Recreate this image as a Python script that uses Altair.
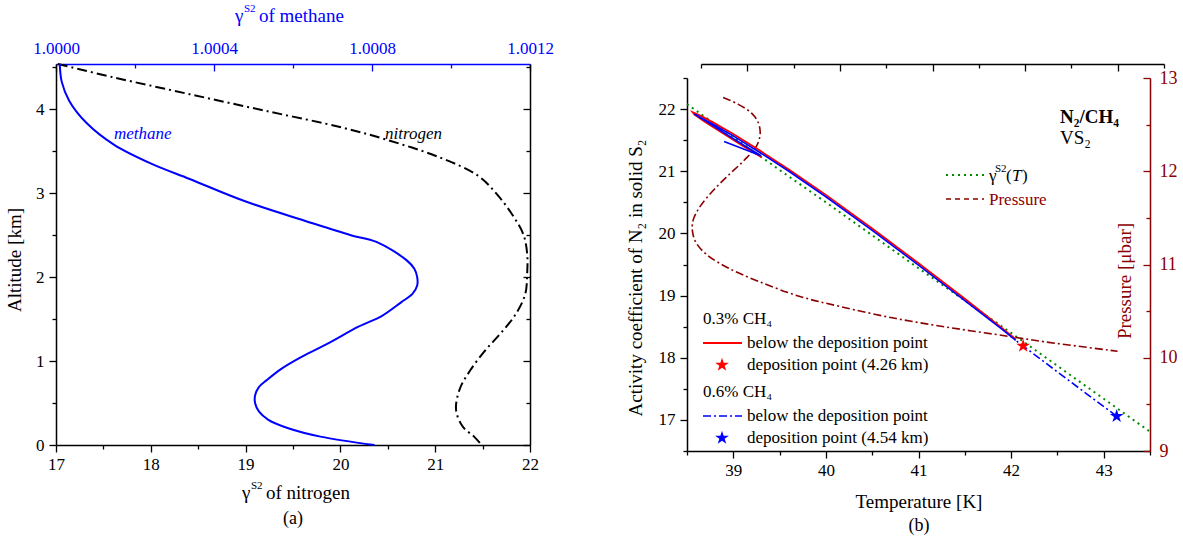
import altair as alt
import pandas as pd

FONT = "Liberation Serif"
BLUE = "#0000ff"
RED = "#ff0000"
GREEN = "#008a00"
DARKRED = "#8b0000"
BLACK = "#000000"

# ---------------- panel (a): activity coefficients vs altitude ----------------
methane_alt = [4.54, 4.33, 4.10, 3.84, 3.58, 3.35, 3.17, 2.91, 2.67, 2.50, 2.42,
               2.20, 2.10, 2.00, 1.90, 1.80, 1.70, 1.54, 1.41, 1.21, 1.05, 0.91,
               0.77, 0.69, 0.59, 0.50, 0.40, 0.30, 0.20, 0.10, 0.00]
methane_gamma = [1.0000096, 1.0000144, 1.0000336, 1.0000768, 1.0001464, 1.0002424,
                 1.0003384, 1.0004752, 1.0006312, 1.0007464, 1.0008112, 1.0008880,
                 1.0009072, 1.0009144, 1.0009144, 1.0009024, 1.0008736, 1.0008256,
                 1.0007656, 1.0006888, 1.0006216, 1.0005712, 1.0005328, 1.0005136,
                 1.0005040, 1.0005040, 1.0005136, 1.0005376, 1.0005880, 1.0006696,
                 1.0008064]
nitrogen_alt = [4.54, 4.38, 4.18, 3.98, 3.78, 3.64, 3.43, 3.21, 2.99, 2.75, 2.51,
                2.28, 2.04, 1.80, 1.56, 1.33, 1.13, 0.89, 0.67, 0.42, 0.22, 0.10, 0.00]
nitrogen_gamma = [17.02, 17.61, 18.41, 19.22, 20.03, 20.48, 21.04, 21.45, 21.65,
                  21.81, 21.93, 21.97, 21.97, 21.95, 21.85, 21.69, 21.53, 21.37,
                  21.26, 21.22, 21.29, 21.41, 21.49]

a_x_ticks = [17, 17.5, 18, 18.5, 19, 19.5, 20, 20.5, 21, 21.5, 22]
a_top_ticks = [1.0, 1.0002, 1.0004, 1.0006, 1.0008, 1.0010, 1.0012]
a_top_labels = [1.0, 1.0004, 1.0008, 1.0012]
a_y_ticks = [0, 0.5, 1, 1.5, 2, 2.5, 3, 3.5, 4, 4.5]

# ---------------- panel (b): activity coefficient vs temperature ----------------
green_T = [38.5, 39.0, 39.5, 40.0, 40.5, 41.0, 41.5, 42.0, 42.5, 43.0, 43.5]
green_g = [22.08, 21.55, 21.02, 20.50, 19.97, 19.44, 18.92, 18.40, 17.87, 17.34, 16.81]

red_T = [42.05, 41.9, 41.5, 41.0, 40.5, 40.0, 39.6, 39.3, 39.0, 38.8, 38.65,
         38.56, 38.58, 38.7, 38.9, 39.1, 39.3]
red_g = [18.30, 18.48, 18.95, 19.52, 20.08, 20.62, 21.03, 21.32, 21.60, 21.77, 21.89,
         21.95, 21.91, 21.79, 21.60, 21.41, 21.23]

blue_T = [42.05, 41.9, 41.5, 41.0, 40.5, 40.0, 39.6, 39.3, 39.0, 38.8, 38.65,
          38.58, 38.6, 38.72, 38.9, 39.1, 39.3, 38.9]
blue_g = [18.28, 18.46, 18.92, 19.49, 20.05, 20.59, 21.00, 21.29, 21.57, 21.74, 21.86,
          21.92, 21.90, 21.79, 21.62, 21.43, 21.25, 21.48]

tail_T = [43.14, 42.6, 42.05]
tail_g = [17.06, 17.66, 18.28]

star_T = [42.13, 43.14]
star_g = [18.19, 17.06]
star_case = ["0.3%", "0.6%"]

pres_T = [38.89, 39.05, 39.20, 39.27, 39.29, 39.25, 39.12, 38.95, 38.78, 38.64, 38.565,
          38.56, 38.60, 38.72, 38.95, 39.27, 39.71, 40.15, 40.76, 41.36, 41.97, 42.37, 43.15]
pres_P = [12.79, 12.72, 12.62, 12.52, 12.40, 12.27, 12.12, 11.96, 11.79, 11.62, 11.47,
          11.35, 11.23, 11.10, 10.96, 10.82, 10.66, 10.55, 10.42, 10.32, 10.23, 10.17, 10.07]

b_x_ticks = [38.5, 39, 39.5, 40, 40.5, 41, 41.5, 42, 42.5, 43, 43.5]
b_y_ticks = [16.5, 17, 17.5, 18, 18.5, 19, 19.5, 20, 20.5, 21, 21.5, 22, 22.5]
b_p_ticks = [9, 9.5, 10, 10.5, 11, 11.5, 12, 12.5, 13]
b_p_labels = [9, 10, 11, 12, 13]

STAR = ("M0,-1L0.2245,-0.309L0.9511,-0.309L0.3633,0.118L0.5878,0.809L0,0.382"
        "L-0.5878,0.809L-0.3633,0.118L-0.9511,-0.309L-0.2245,-0.309Z")

INT_TEST = "abs(datum.value - round(datum.value)) < 1e-6"
METH_TEST = "abs(datum.value * 2500 - round(datum.value * 2500)) < 1e-3"
INT_LABEL = f"({INT_TEST}) ? format(datum.value, 'd') : ''"

TICK_FS = 17
LEG_FS = 17
TITLE_FS = 19


def tick_len(test, sign=1):
    return {"expr": f"({test}) ? {7 * sign} : {4 * sign}"}


def axis(**kw):
    base = dict(title=None, grid=False, offset=0, labelFont=FONT, labelFontSize=TICK_FS,
                labelColor=BLACK, labelFlush=False, labelOverlap=False,
                domainColor=BLACK, domainWidth=1.5, tickColor=BLACK, tickWidth=1.3,
                labelPadding=4)
    base.update(kw)
    return alt.Axis(**base)


one = pd.DataFrame({"k": [0]})


def txt(s, x, y, size=LEG_FS, color=BLACK, align="left", angle=0, style="normal",
        weight="normal", baseline="alphabetic"):
    return alt.Chart(one).mark_text(
        text=s, align=align, baseline=baseline, angle=angle, font=FONT,
        fontSize=size, color=color, fontStyle=style, fontWeight=weight
    ).encode(x=alt.value(x), y=alt.value(y))


def anchor(x, y):
    return alt.Chart(one).mark_point(opacity=0, size=1, strokeWidth=0).encode(
        x=alt.value(x), y=alt.value(y))


def sample_line(x1, x2, y, color, dash=None, width=1.6):
    kw = dict(color=color, strokeWidth=width)
    if dash is not None:
        kw["strokeDash"] = dash
    return alt.Chart(one).mark_rule(**kw).encode(
        x=alt.value(x1), x2=alt.value(x2), y=alt.value(y))


def legend_star(x, y, color):
    return alt.Chart(one).mark_point(shape=STAR, filled=True, size=210, color=color,
                                     opacity=1).encode(x=alt.value(x), y=alt.value(y))


# ---------------- build panel (a) ----------------
df_n = pd.DataFrame({"i": range(len(nitrogen_alt)), "alt": nitrogen_alt, "g": nitrogen_gamma})
df_m = pd.DataFrame({"i": range(len(methane_alt)), "alt": methane_alt, "g": methane_gamma})

xs_n = alt.Scale(domain=[17, 22], nice=False, zero=False)
xs_m = alt.Scale(domain=[1.0, 1.0012], nice=False, zero=False)
ys_a = alt.Scale(domain=[0, 4.54], nice=False, zero=False)

nitro = alt.Chart(df_n).mark_line(color=BLACK, strokeWidth=2, strokeDash=[10, 4, 2, 4],
                                  interpolate="catmull-rom").encode(
    x=alt.X("g:Q", scale=xs_n, axis=axis(orient="bottom", values=a_x_ticks,
                                          labelExpr=INT_LABEL, tickSize=tick_len(INT_TEST))),
    y=alt.Y("alt:Q", scale=ys_a, axis=axis(orient="left", values=a_y_ticks,
                                            labelExpr=INT_LABEL, tickSize=tick_len(INT_TEST),
                                            labelPadding=5)),
    order=alt.Order("i:Q"),
)

meth = alt.Chart(df_m).mark_line(color=BLUE, strokeWidth=2, interpolate="catmull-rom").encode(
    x=alt.X("g:Q", scale=xs_m, axis=axis(orient="top", values=a_top_labels, format=".4f",
                                          ticks=False, labelPadding=7, labelColor=BLUE,
                                          domainColor=BLUE)),
    y=alt.Y("alt:Q", scale=ys_a, axis=None),
    order=alt.Order("i:Q"),
)

meth_ticks = alt.Chart(df_m).mark_line(opacity=0).encode(
    x=alt.X("g:Q", scale=xs_m, axis=axis(orient="top", values=a_top_ticks, labels=False,
                                          domain=False, tickColor=BLUE,
                                          tickSize=tick_len(METH_TEST, -1))),
    y=alt.Y("alt:Q", scale=ys_a, axis=None),
)

mirror_a = alt.Chart(df_n).mark_line(opacity=0).encode(
    x=alt.X("g:Q", scale=xs_n, axis=None),
    y=alt.Y("alt:Q", scale=ys_a, axis=axis(orient="right", values=a_y_ticks, labels=False,
                                            tickSize=tick_len(INT_TEST, -1))),
)

panel_a = alt.layer(
    nitro, meth, meth_ticks, mirror_a,
    txt("methane", 58, 75, size=17, color=BLUE, style="italic"),
    txt("nitrogen", 329, 75, size=17, style="italic"),
    # top title
    txt("γ", 179, -42, size=TITLE_FS, color=BLUE),
    txt("S2", 188, -52, size=11, color=BLUE),
    txt("of methane", 203, -42, size=TITLE_FS, color=BLUE),
    # bottom title
    txt("γ", 186, 435, size=TITLE_FS),
    txt("S2", 195, 425, size=11),
    txt("of nitrogen", 210, 435, size=TITLE_FS),
    txt("(a)", 237, 460, size=18, align="center"),
    txt("Altitude [km]", -41, 196, size=TITLE_FS, align="center", angle=270, baseline="middle"),
    anchor(-55, -63), anchor(521, 100),
).resolve_scale(x="independent", y="independent").properties(width=474, height=381)

# ---------------- build panel (b) ----------------
# plot area of panel (b) starts 14 px lower than panel (a): its y ranges are offset
HB = 387
TOPB = 14
df_g = pd.DataFrame({"i": range(len(green_T)), "T": green_T, "g": green_g})
df_r = pd.DataFrame({"i": range(len(red_T)), "T": red_T, "g": red_g})
df_b = pd.DataFrame({"i": range(len(blue_T)), "T": blue_T, "g": blue_g})
df_t = pd.DataFrame({"i": range(len(tail_T)), "T": tail_T, "g": tail_g})
df_s = pd.DataFrame({"T": star_T, "g": star_g, "case": star_case})
df_p = pd.DataFrame({"i": range(len(pres_T)), "T": pres_T, "P": pres_P})

xs_T = alt.Scale(domain=[38.5, 43.5], nice=False, zero=False)
ys_g = alt.Scale(domain=[16.5, 22.5], nice=False, zero=False, range=[HB, TOPB])
ys_p = alt.Scale(domain=[9, 13], nice=False, zero=False, range=[HB, TOPB])

green = alt.Chart(df_g).mark_line(color=GREEN, strokeWidth=2, strokeDash=[2, 4]).encode(
    x=alt.X("T:Q", scale=xs_T, axis=axis(orient="bottom", values=b_x_ticks,
                                          labelExpr=INT_LABEL, tickSize=tick_len(INT_TEST))),
    y=alt.Y("g:Q", scale=ys_g, axis=axis(orient="left", values=b_y_ticks,
                                          labelExpr=INT_LABEL, tickSize=tick_len(INT_TEST),
                                          labelPadding=5)),
    order=alt.Order("i:Q"),
)

red = alt.Chart(df_r).mark_line(color=RED, strokeWidth=1.8).encode(
    x=alt.X("T:Q", scale=xs_T, axis=None),
    y=alt.Y("g:Q", scale=ys_g, axis=None),
    order=alt.Order("i:Q"),
)
blue = alt.Chart(df_b).mark_line(color=BLUE, strokeWidth=1.6).encode(
    x=alt.X("T:Q", scale=xs_T, axis=None),
    y=alt.Y("g:Q", scale=ys_g, axis=None),
    order=alt.Order("i:Q"),
)
tail = alt.Chart(df_t).mark_line(color=BLUE, strokeWidth=1.6, strokeDash=[8, 3, 2, 3]).encode(
    x=alt.X("T:Q", scale=xs_T, axis=None),
    y=alt.Y("g:Q", scale=ys_g, axis=None),
    order=alt.Order("i:Q"),
)
stars = alt.Chart(df_s).mark_point(shape=STAR, filled=True, size=210, opacity=1).encode(
    x=alt.X("T:Q", scale=xs_T, axis=None),
    y=alt.Y("g:Q", scale=ys_g, axis=None),
    color=alt.Color("case:N", scale=alt.Scale(domain=["0.3%", "0.6%"], range=[RED, BLUE]),
                    legend=None),
)
pres = alt.Chart(df_p).mark_line(color=DARKRED, strokeWidth=1.6, strokeDash=[8, 3, 2, 3],
                                 interpolate="catmull-rom").encode(
    x=alt.X("T:Q", scale=xs_T, axis=None),
    y=alt.Y("P:Q", scale=ys_p, axis=axis(orient="right", values=b_p_labels, ticks=False,
                                          labelPadding=9, labelColor=DARKRED,
                                          labelFontSize=18, domainColor=DARKRED)),
    order=alt.Order("i:Q"),
)
pres_ticks = alt.Chart(df_p).mark_line(opacity=0).encode(
    x=alt.X("T:Q", scale=xs_T, axis=None),
    y=alt.Y("P:Q", scale=ys_p, axis=axis(orient="right", values=b_p_ticks, labels=False,
                                          domain=False, tickColor=DARKRED,
                                          tickSize=tick_len(INT_TEST, -1))),
)
top_mirror = alt.Chart(df_g).mark_line(opacity=0).encode(
    x=alt.X("T:Q", scale=xs_T, axis=axis(orient="top", position=TOPB, values=b_x_ticks,
                                          labels=False, tickSize=tick_len(INT_TEST, -1))),
    y=alt.Y("g:Q", scale=ys_g, axis=None),
)

o = TOPB
panel_b = alt.layer(
    green, pres, red, blue, tail, stars, pres_ticks, top_mirror,
    # labels block top-right
    txt("N₂/CH₄", 373, 45 + o, size=19, weight="bold"),
    txt("VS₂", 373, 66 + o, size=19),
    sample_line(259, 297, 97 + o, GREEN, dash=[2, 4], width=2),
    txt("γ", 302, 103 + o, size=LEG_FS),
    txt("S2", 308, 94 + o, size=11),
    txt("(", 319, 103 + o, size=LEG_FS),
    txt("T", 325, 103 + o, size=LEG_FS, style="italic"),
    txt(")", 335, 103 + o, size=LEG_FS),
    sample_line(259, 297, 121 + o, DARKRED, dash=[5, 4]),
    txt("Pressure", 302, 127 + o, size=LEG_FS, color=DARKRED),
    # lower-left legend
    txt("0.3% CH₄", 16, 246 + o),
    sample_line(16, 55, 265 + o, RED, width=1.8),
    txt("below the deposition point", 60, 270 + o),
    legend_star(35, 287 + o, RED),
    txt("deposition point (4.26 km)", 60, 292 + o),
    txt("0.6% CH₄", 16, 319 + o),
    sample_line(16, 55, 338 + o, BLUE, dash=[8, 3, 2, 3]),
    txt("below the deposition point", 60, 343 + o),
    legend_star(35, 360 + o, BLUE),
    txt("deposition point (4.54 km)", 60, 365 + o),
    # axis titles
    txt("Activity coefficient of N₂ in solid S₂", -51, 200 + o, size=TITLE_FS, align="center",
        angle=270, baseline="middle"),
    txt("Pressure [μbar]", 438, 203 + o, size=TITLE_FS, align="center", angle=270,
        baseline="middle", color=DARKRED),
    txt("Temperature [K]", 232, 430 + o, size=TITLE_FS, align="center"),
    txt("(b)", 232, 453 + o, size=18, align="center"),
    anchor(-88, 200),
).resolve_scale(x="independent", y="independent").properties(width=463, height=HB)

chart = alt.hconcat(panel_a, panel_b, spacing=20).properties(
    padding=0, background="white"
).configure_view(stroke=None)

chart.save("out.html", embed_options={"renderer": "svg", "actions": False})
